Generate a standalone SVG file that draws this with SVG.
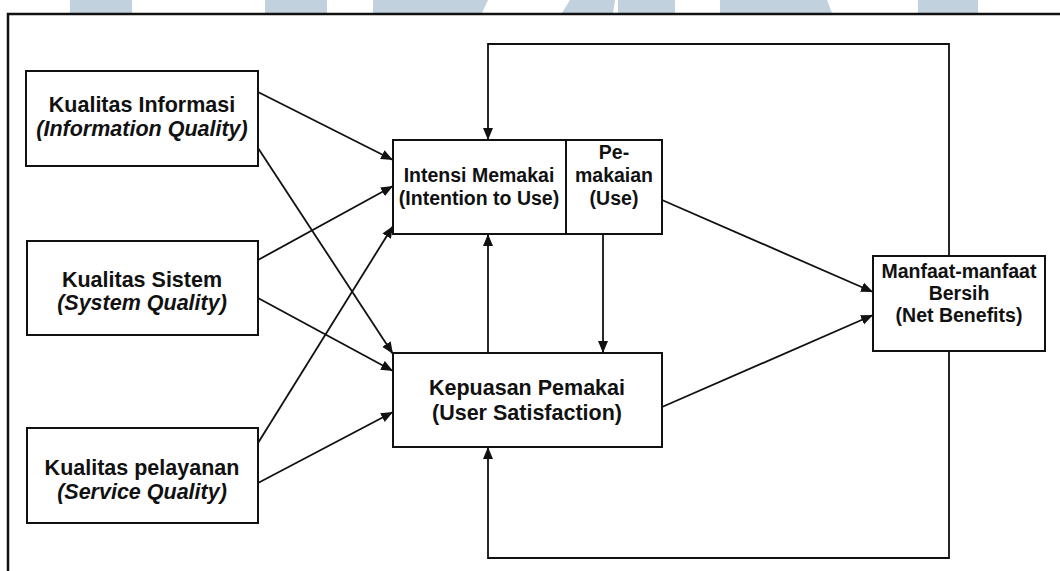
<svg xmlns="http://www.w3.org/2000/svg" width="1060" height="571" viewBox="0 0 1060 571">
<style>
.box{fill:#ffffff;stroke:#111;stroke-width:2}
.wm{fill:#c1d1dd}
.t{font-family:"Liberation Sans",Arial,sans-serif;font-weight:bold;fill:#111;text-anchor:middle}
.it{font-style:italic}
.c{fill:none;stroke:#111;stroke-width:1.8}
</style>
<defs>
<marker id="ah" markerUnits="userSpaceOnUse" markerWidth="13" markerHeight="11" refX="12" refY="5" orient="auto">
<path d="M0,0 L12,5 L0,10 z" fill="#111"/>
</marker>
</defs>
<rect width="1060" height="571" fill="#ffffff"/>
<g id="watermark">
<rect class="wm" x="70" y="0" width="62" height="13"/>
<rect class="wm" x="265" y="0" width="62" height="13"/>
<polygon class="wm" points="373,0 488,0 482,13 373,13"/>
<polygon class="wm" points="570,0 615,0 613,13 562,13"/>
<rect class="wm" x="618" y="0" width="57" height="13"/>
<polygon class="wm" points="720,0 827,0 832,13 720,13"/>
<rect class="wm" x="918" y="0" width="60" height="13"/>
</g>
<g id="frame">
<path d="M8,571 L8,14 L1060,14" fill="none" stroke="#111" stroke-width="2.5"/>
</g>
<g id="connectors">
<line class="c" x1="258" y1="92" x2="393" y2="160" marker-end="url(#ah)"/>
<line class="c" x1="258" y1="260" x2="393" y2="186" marker-end="url(#ah)"/>
<line class="c" x1="258" y1="443" x2="393" y2="226" marker-end="url(#ah)"/>
<line class="c" x1="258" y1="148" x2="393" y2="354" marker-end="url(#ah)"/>
<line class="c" x1="258" y1="298" x2="393" y2="371" marker-end="url(#ah)"/>
<line class="c" x1="258" y1="483" x2="393" y2="412" marker-end="url(#ah)"/>
<line class="c" x1="662" y1="200" x2="873" y2="292" marker-end="url(#ah)"/>
<line class="c" x1="662" y1="407" x2="873" y2="315" marker-end="url(#ah)"/>
<line class="c" x1="603" y1="234" x2="603" y2="353" marker-end="url(#ah)"/>
<line class="c" x1="488" y1="353" x2="488" y2="234" marker-end="url(#ah)"/>
<polyline class="c" points="949,256 949,44 488,44 488,140" marker-end="url(#ah)"/>
<polyline class="c" points="949,351 949,558 488,558 488,447" marker-end="url(#ah)"/>
</g>
<g id="info-quality">
<rect class="box" x="26" y="71" width="232" height="95"/>
<text class="t" x="142" y="112" font-size="21.5">Kualitas Informasi</text>
<text class="t it" x="142" y="136" font-size="21.5">(Information Quality)</text>
</g>
<g id="system-quality">
<rect class="box" x="27" y="241" width="231" height="94"/>
<text class="t" x="142" y="287" font-size="21.5">Kualitas Sistem</text>
<text class="t it" x="142" y="310" font-size="21.5">(System Quality)</text>
</g>
<g id="service-quality">
<rect class="box" x="27" y="428" width="231" height="95"/>
<text class="t" x="142" y="475" font-size="21.5">Kualitas pelayanan</text>
<text class="t it" x="142" y="499" font-size="21.5">(Service Quality)</text>
</g>
<g id="intention-to-use">
<rect class="box" x="393" y="140" width="173" height="94"/>
<text class="t" x="479" y="182" font-size="19.5">Intensi Memakai</text>
<text class="t" x="479" y="205" font-size="19.5">(Intention to Use)</text>
</g>
<g id="use">
<rect class="box" x="566" y="140" width="96" height="94"/>
<text class="t" x="614" y="159" font-size="19.5">Pe-</text>
<text class="t" x="614" y="182" font-size="19.5">makaian</text>
<text class="t" x="614" y="205" font-size="19.5">(Use)</text>
</g>
<g id="user-satisfaction">
<rect class="box" x="393" y="353" width="269" height="94"/>
<text class="t" x="527" y="395" font-size="21.5">Kepuasan Pemakai</text>
<text class="t" x="527" y="420" font-size="21.5">(User Satisfaction)</text>
</g>
<g id="net-benefits">
<rect class="box" x="873" y="256" width="172" height="95"/>
<text class="t" x="959" y="278" font-size="19.5">Manfaat-manfaat</text>
<text class="t" x="959" y="300" font-size="19.5">Bersih</text>
<text class="t" x="959" y="322" font-size="19.5">(Net Benefits)</text>
</g>
</svg>
